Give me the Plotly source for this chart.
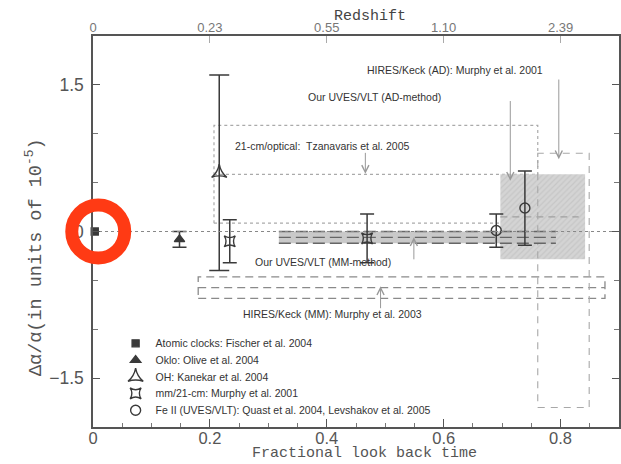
import plotly.graph_objects as go

# ---------------- data ----------------
# point measurements (fractional look-back time, delta alpha / alpha, 1-sigma)
clock_x = [0.003]; clock_y = [0.0]; clock_err = [0.01]
oklo_x = [0.148]; oklo_y = [-0.08]; oklo_err = [0.08]
oh_x = [0.216]; oh_y = [0.60]; oh_err = [1.00]
mm_x = [0.234, 0.469]; mm_y = [-0.10, -0.07]; mm_err = [0.22, 0.25]
fe_x = [0.690, 0.739]; fe_y = [0.01, 0.24]; fe_err = [0.17, 0.38]

# range measurements: x-span, mean, half-width
tz_x = [0.207, 0.761]; tz_mean = 0.585; tz_half = 0.50          # 21-cm/optical
ad_x = [0.697, 0.842]; ad_mean = 0.15; ad_half = 0.435          # UVES AD-method
keck_ad_x = [0.761, 0.849]; keck_ad_y = [-1.80, 0.80]           # HIRES AD
mmm_x = [0.318, 0.792]; mmm_mean = -0.06; mmm_half = 0.06       # UVES MM-method
keck_mm_x = [0.180, 0.876]; keck_mm_mean = -0.575; keck_mm_half = 0.11  # HIRES MM

x_range = [0, 0.9]
y_range = [-2, 2]
bottom_tick_vals = [0, 0.2, 0.4, 0.6, 0.8]
bottom_tick_text = ["0", "0.2", "0.4", "0.6", "0.8"]
redshift_labels = ["0", "0.23", "0.55", "1.10", "2.39"]
y_tick_vals = [-1.5, 0, 1.5]
y_tick_text = ["\u22121.5", "0", "1.5"]

# labels (text, x, y) and arrows (x, y_tail, y_tip)
labels = [
    ("HIRES/Keck (AD): Murphy et al. 2001", 0.619, 1.65),
    ("Our UVES/VLT (AD-method)", 0.481, 1.375),
    ("21-cm/optical:  Tzanavaris et al. 2005", 0.391, 0.878),
    ("Our UVES/VLT (MM-method)", 0.393, -0.31),
    ("HIRES/Keck (MM): Murphy et al. 2003", 0.409, -0.84),
]
arrows = [
    (0.797, 1.57, 0.74),
    (0.714, 1.35, 0.52),
    (0.466, 0.82, 0.59),
    (0.549, -0.30, -0.06),
    (0.492, -0.80, -0.56),
]
ring_center = (0.009, 0.0)

DARK = "#3a3a3a"


def rect(xs, y0, y1):
    return [xs[0], xs[1], xs[1], xs[0], xs[0]], [y0, y0, y1, y1, y0]


fig = go.Figure()

# zero line (on the top/redshift x-axis, which shares the same range)
fig.add_trace(go.Scatter(x=x_range, y=[0, 0], mode="lines", showlegend=False, xaxis="x2",
                         line=dict(color="#888", width=1.2, dash="dot"), hoverinfo="skip"))

# 21-cm/optical dotted box
rx, ry = rect(tz_x, tz_mean - tz_half, tz_mean + tz_half)
fig.add_trace(go.Scatter(x=rx, y=ry, mode="lines", showlegend=False,
                         line=dict(color="#aaa", width=1.2, dash="dot"), hoverinfo="skip"))
fig.add_trace(go.Scatter(x=tz_x, y=[tz_mean, tz_mean], mode="lines", showlegend=False,
                         line=dict(color="#aaa", width=1.2, dash="dot"), hoverinfo="skip"))

# HIRES MM dashed box
rx, ry = rect(keck_mm_x, keck_mm_mean - keck_mm_half, keck_mm_mean + keck_mm_half)
fig.add_trace(go.Scatter(x=rx, y=ry, mode="lines", showlegend=False,
                         line=dict(color="#8a8a8a", width=1.3, dash="8px,5px"), hoverinfo="skip"))
fig.add_trace(go.Scatter(x=keck_mm_x, y=[keck_mm_mean, keck_mm_mean], mode="lines", showlegend=False,
                         line=dict(color="#8a8a8a", width=1.3, dash="8px,5px"), hoverinfo="skip"))

# UVES AD hatched grey box
rx, ry = rect(ad_x, ad_mean - ad_half, ad_mean + ad_half)
fig.add_trace(go.Scatter(x=rx, y=ry, mode="lines", fill="toself", showlegend=False,
                         line=dict(width=0, color="#c8c8c8"), fillcolor="#cdcdcd",
                         fillpattern=dict(shape="/", bgcolor="#d4d4d4", fgcolor="#b8b8b8",
                                          size=4, solidity=0.3),
                         hoverinfo="skip"))
fig.add_trace(go.Scatter(x=[ad_x[0], ad_x[1] - 0.011], y=[ad_mean, ad_mean], mode="lines", showlegend=False,
                         line=dict(color="#a0a0a0", width=1.2, dash="7px,5px"), hoverinfo="skip"))

# HIRES AD tall dashed box
rx, ry = rect(keck_ad_x, keck_ad_y[0], keck_ad_y[1])
fig.add_trace(go.Scatter(x=rx, y=ry, mode="lines", showlegend=False,
                         line=dict(color="#a8a8a8", width=1.1, dash="7px,6px"), hoverinfo="skip"))

# UVES MM band
rx, ry = rect(mmm_x, mmm_mean - mmm_half, mmm_mean + mmm_half)
fig.add_trace(go.Scatter(x=rx, y=ry, mode="lines", fill="toself", showlegend=False,
                         line=dict(width=0, color="#c4c4c4"), fillcolor="rgba(195,195,195,0.9)",
                         hoverinfo="skip"))
for yy in (mmm_mean - mmm_half, mmm_mean, mmm_mean + mmm_half):
    fig.add_trace(go.Scatter(x=mmm_x, y=[yy, yy], mode="lines", showlegend=False,
                             line=dict(color="#666", width=1.3, dash="12px,5px"), hoverinfo="skip"))

# point measurements
def pts(x, y, err, name, symbol, size, legend, cap=7):
    return go.Scatter(
        x=x, y=y, mode="markers", name=name, legend=legend, cliponaxis=False,
        marker=dict(symbol=symbol, size=size, color=DARK, line=dict(color=DARK, width=1.4)),
        error_y=dict(type="data", array=err, visible=True, color=DARK, thickness=1.5, width=cap),
    )

fig.add_trace(pts(clock_x, clock_y, clock_err, "Atomic clocks: Fischer et al. 2004", "square", 7, "legend", cap=0))
fig.add_trace(pts(oklo_x, oklo_y, oklo_err, "Oklo: Olive et al. 2004", "triangle-up", 9, "legend2"))
fig.add_trace(pts(oh_x, oh_y, oh_err, "OH: Kanekar et al. 2004", "star-triangle-up-open", 11, "legend3", cap=10))
fig.add_trace(pts(mm_x, mm_y, mm_err, "mm/21-cm: Murphy et al. 2001", "star-square-open", 10, "legend4"))
fig.add_trace(pts(fe_x, fe_y, fe_err, "Fe II (UVES/VLT): Quast et al. 2004, Levshakov et al. 2005",
                  "circle-open", 10, "legend5"))

annotations = []
for t, x, y in labels:
    annotations.append(dict(text=t, x=x, y=y, xref="x", yref="y", showarrow=False,
                            xanchor="center", yanchor="middle",
                            font=dict(family="Liberation Sans", size=10.5, color="#333")))
for x, yt, yh in arrows:
    annotations.append(dict(text="", x=x, y=yh, ax=x, ay=yt, xref="x", yref="y", axref="x", ayref="y",
                            showarrow=True, arrowhead=5, arrowsize=1.4, arrowwidth=1,
                            arrowcolor="#999", standoff=0, startstandoff=0))

# axis titles
annotations.append(dict(text="\u0394\u03b1/\u03b1(in units of 10<sup>-5</sup>)", x=-0.11, y=0.435,
                        xref="paper", yref="paper", showarrow=False, textangle=-90,
                        xanchor="center", yanchor="middle",
                        font=dict(family="Liberation Mono", size=18.5, color="#555")))
annotations.append(dict(text="Fractional look back time", x=0.516, y=-0.069,
                        xref="paper", yref="paper", showarrow=False,
                        xanchor="center", yanchor="middle",
                        font=dict(family="Liberation Mono", size=15, color="#555")))
annotations.append(dict(text="Redshift", x=0.527, y=1.051, xref="paper", yref="paper", showarrow=False,
                        xanchor="center", yanchor="middle",
                        font=dict(family="Liberation Mono", size=15, color="#444")))

rx_p = (ring_center[0] - x_range[0]) / (x_range[1] - x_range[0])
ry_p = (ring_center[1] - y_range[0]) / (y_range[1] - y_range[0])
shapes = [dict(type="circle", xref="paper", yref="paper", xsizemode="pixel", ysizemode="pixel",
               xanchor=rx_p, yanchor=ry_p, x0=-26.5, x1=26.5, y0=-26.5, y1=26.5,
               line=dict(color="#ff3a14", width=13), layer="above")]

legend_rows = [0.214, 0.171, 0.128, 0.086, 0.043]
leg_common = dict(x=0.043, xanchor="left", yanchor="middle", bgcolor="rgba(0,0,0,0)",
                  font=dict(family="Liberation Sans", size=10.5, color="#333"), borderwidth=0)
legends = {}
for i, yy in enumerate(legend_rows):
    key = "legend" if i == 0 else f"legend{i + 1}"
    legends[key] = dict(leg_common, y=yy)

fig.update_layout(
    width=621, height=464,
    margin=dict(l=93, r=0, t=36, b=37),
    paper_bgcolor="white", plot_bgcolor="white",
    font=dict(family="Liberation Sans", color="#555"),
    annotations=annotations, shapes=shapes,
    xaxis=dict(range=x_range, showgrid=False, zeroline=False,
               showline=True, linecolor="#555", linewidth=1.5, mirror=True,
               tickvals=bottom_tick_vals, ticktext=bottom_tick_text,
               ticks="inside", ticklen=8, tickcolor="#555", tickwidth=1,
               tickfont=dict(size=16.5, color="#555"), ticklabelstandoff=-5,
               minor=dict(dtick=0.05, ticks="inside", ticklen=4, tickcolor="#777", showgrid=False)),
    xaxis2=dict(range=x_range, overlaying="x", side="top", anchor="y", showgrid=False, zeroline=False,
                showline=False, tickvals=bottom_tick_vals, ticktext=redshift_labels,
                ticks="inside", ticklen=7, tickcolor="#aaa",
                tickfont=dict(size=13, color="#777")),
    yaxis=dict(range=y_range, showgrid=False, zeroline=False,
               showline=True, linecolor="#555", linewidth=1.5, mirror="ticks",
               tickvals=y_tick_vals, ticktext=y_tick_text,
               ticks="inside", ticklen=7, tickcolor="#555",
               tickfont=dict(size=17.5, color="#555"), ticklabelstandoff=4,
               minor=dict(dtick=0.5, ticks="inside", ticklen=5, tickcolor="#777", showgrid=False)),
    **legends,
)

fig.write_html("out.html")
